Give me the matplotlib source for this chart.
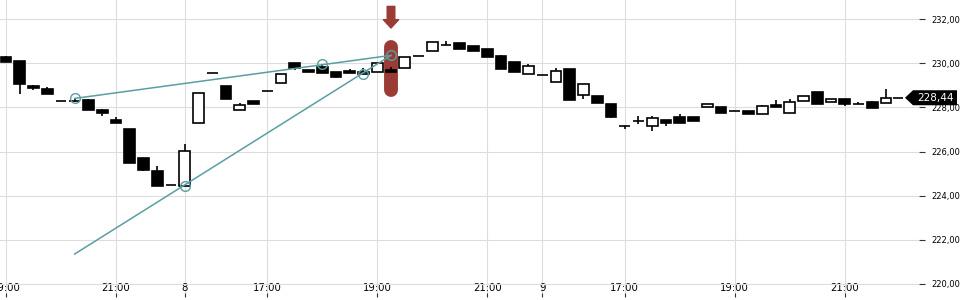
import numpy as np
import matplotlib
matplotlib.use("Agg")
import matplotlib.pyplot as plt
from matplotlib.patches import Polygon
from matplotlib import transforms

# candle data (15 min bars)
opens = [230.29, 230.10, 228.97, 228.84, 228.28, 228.31, 228.34, 227.90, 227.43, 227.02,
         225.71, 225.12, 224.49, 224.45, 227.31, 229.55, 228.97, 227.87, 228.29, 228.73,
         229.09, 230.01, 229.68, 229.83, 229.59, 229.65, 229.50, 229.59, 229.70, 229.77,
         230.32, 230.54, 230.83, 230.92, 230.77, 230.65, 230.33, 230.06, 229.50, 229.46,
         229.14, 229.74, 228.55, 228.52, 228.16, 227.15, 227.40, 227.18, 227.41, 227.56,
         227.55, 228.04, 228.02, 227.84, 227.84, 227.70, 228.11, 227.76, 228.31, 228.70,
         228.24, 228.37, 228.17, 228.25, 228.19]
highs = [230.34, 230.10, 229.03, 228.93, 228.28, 228.44, 228.37, 227.93, 227.55, 227.02,
         225.71, 225.35, 224.49, 226.34, 228.67, 229.55, 228.97, 228.19, 228.29, 228.73,
         229.52, 230.01, 229.68, 229.95, 229.59, 229.74, 229.77, 230.00, 229.82, 230.27,
         230.32, 230.95, 231.00, 230.92, 230.77, 230.65, 230.39, 230.06, 229.98, 229.46,
         229.79, 229.74, 229.05, 228.52, 228.16, 227.15, 227.61, 227.61, 227.41, 227.70,
         227.55, 228.14, 228.02, 227.84, 227.84, 228.11, 228.32, 228.38, 228.53, 228.70,
         228.40, 228.37, 228.25, 228.29, 228.84]
lows = [230.06, 228.62, 228.79, 228.62, 228.28, 228.23, 227.90, 227.63, 227.31, 225.50,
        225.13, 224.45, 224.49, 224.45, 227.31, 229.55, 228.40, 227.87, 228.17, 228.73,
        229.09, 229.70, 229.62, 229.57, 229.35, 229.57, 229.50, 229.59, 229.62, 229.77,
        230.32, 230.54, 230.83, 230.63, 230.54, 230.27, 229.76, 229.59, 229.50, 229.46,
        229.14, 228.35, 228.40, 228.22, 227.54, 227.01, 227.27, 226.95, 227.17, 227.31,
        227.40, 228.04, 227.75, 227.84, 227.72, 227.70, 228.04, 227.76, 228.31, 228.14,
        228.24, 228.08, 228.17, 227.99, 228.19]
closes = [230.06, 229.08, 228.90, 228.62, 228.28, 228.28, 227.90, 227.76, 227.31, 225.50,
          225.18, 224.45, 224.49, 226.01, 228.67, 229.55, 228.40, 228.10, 228.17, 228.73,
          229.52, 229.80, 229.62, 229.57, 229.39, 229.57, 229.61, 230.00, 229.62, 230.27,
          230.32, 230.95, 230.83, 230.63, 230.54, 230.27, 229.76, 229.59, 229.86, 229.46,
          229.65, 228.35, 229.05, 228.22, 227.58, 227.15, 227.40, 227.50, 227.31, 227.31,
          227.40, 228.14, 227.75, 227.84, 227.72, 228.06, 228.04, 228.26, 228.53, 228.14,
          228.40, 228.14, 228.17, 227.99, 228.44]

tick_pos = [0, 8, 13, 19, 27, 35, 39, 45, 53, 61]
tick_labels = ['19:00', '21:00', '8', '17:00', '19:00', '21:00', '9', '17:00', '19:00', '21:00']
price_ticks = [220, 222, 224, 226, 228, 230, 232]

# trend lines (index, price)
line1_x = [5, 28]
line1_y = [228.41, 230.36]
line2_x = [5, 28]
line2_y = [221.36, 230.36]
pts_x = [5, 13, 23, 26, 28]
pts_y = [228.41, 224.45, 229.95, 229.51, 230.36]

highlight_idx = 28
highlight_top = 230.75
highlight_bottom = 228.78

teal = '#5a9ea3'
red = '#9b3b35'

fig = plt.figure(figsize=(9.6, 3), dpi=100)
ax = fig.add_axes([0, 0.01, 919 / 960, 0.99])

x = np.arange(len(opens))
o = np.array(opens)
c = np.array(closes)
up = c >= o

# highlight marker behind the candle
ax.plot([highlight_idx, highlight_idx], [highlight_bottom, highlight_top], color=red,
        lw=10, solid_capstyle='round', zorder=1)
ax.annotate('', xy=(highlight_idx, 231.6), xytext=(highlight_idx, 232.58),
            arrowprops=dict(width=5.5, headwidth=11, headlength=6, color=red, shrink=0),
            annotation_clip=False)

ax.vlines(x, lows, highs, color='black', lw=1.2, zorder=2)
heights = np.abs(c - o)
bottoms = np.minimum(o, c)
ax.bar(x, heights, bottom=bottoms, width=0.78,
       color=np.where(up, 'white', 'black'), edgecolor='black', lw=1.2, zorder=3)

# trend lines
ax.plot(line1_x, line1_y, color=teal, lw=1.1, zorder=4)
ax.plot(line2_x, line2_y, color=teal, lw=1.1, zorder=4)
ax.plot(pts_x, pts_y, 'o', ms=7, mfc='none', mec=teal, mew=1.0, zorder=5)

# last price stub + label
last = closes[-1]
ax.hlines(last, len(closes) - 0.5, len(closes) + 0.25, color='black', lw=1.2, clip_on=False)
trans = transforms.blended_transform_factory(fig.transFigure, ax.transData)
h = 0.34
poly = Polygon([(905 / 960, last), (913 / 960, last + h), (957 / 960, last + h),
                (957 / 960, last - h), (913 / 960, last - h)], closed=True,
               facecolor='black', edgecolor='none', transform=trans, clip_on=False, zorder=6)
ax.add_patch(poly)
ax.text(935 / 960, last, f'{last:.2f}'.replace('.', ','), transform=trans, color='white',
        fontsize=7.5, ha='center', va='center', zorder=7)

ax.set_xlim(-0.436, 66.40)
ax.set_ylim(219.41, 232.87)

ax.set_xticks(tick_pos)
ax.set_xticklabels(tick_labels)
ax.set_yticks(price_ticks)
ax.set_yticklabels([f'{v:.2f}'.replace('.', ',') for v in price_ticks], fontstretch='condensed')
ax.yaxis.tick_right()
ax.tick_params(axis='y', length=4, pad=5, labelsize=6.7, color='#333333')
ax.tick_params(axis='x', direction='in', length=3, pad=-10.3, labelsize=7.3, color='#333333')

ax.grid(True, color='#dddddd', lw=0.8, zorder=0)
ax.set_axisbelow(True)
for s in ax.spines.values():
    s.set_visible(False)

fig.savefig('out.png', dpi=100)
